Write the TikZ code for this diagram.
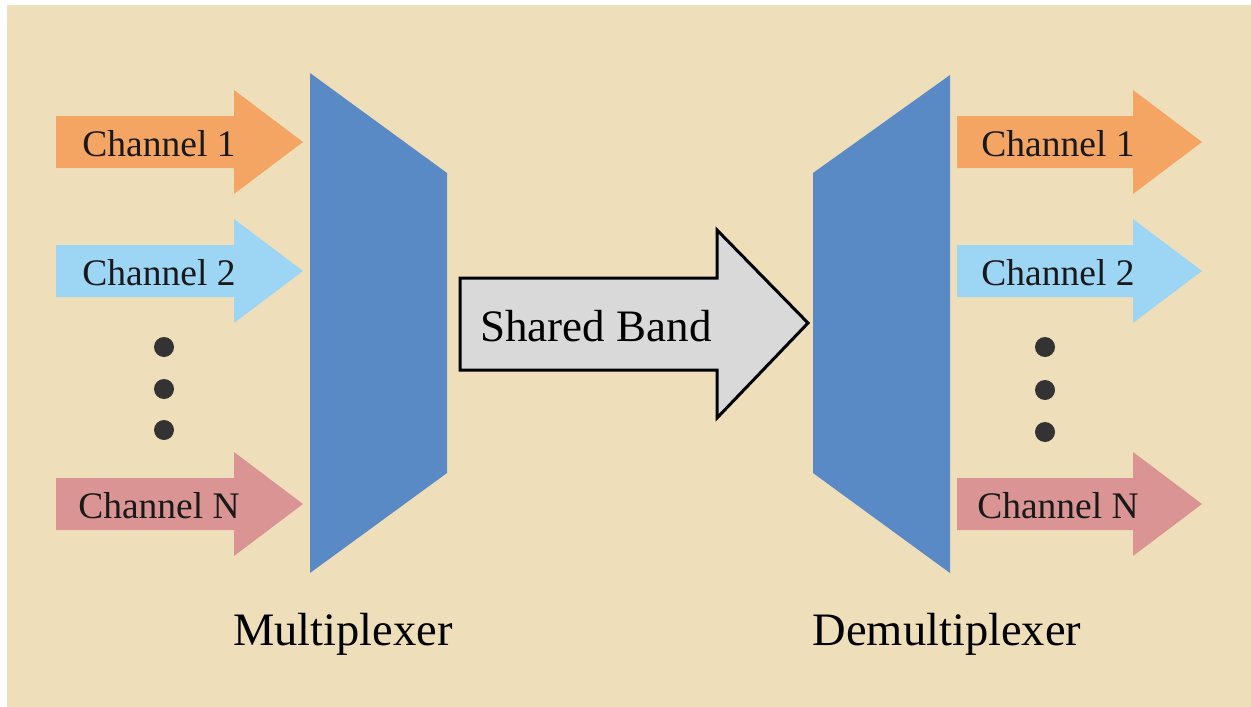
\documentclass[tikz,border=0pt]{standalone}
\usepackage{fontspec}
\setmainfont{Liberation Serif}
\usepackage{tikz}
\definecolor{paper}{RGB}{238,223,186}
\definecolor{chanA}{RGB}{245,165,99}
\definecolor{chanB}{RGB}{157,213,245}
\definecolor{chanN}{RGB}{217,148,147}
\definecolor{muxblue}{RGB}{90,138,198}
\definecolor{bandgray}{RGB}{217,217,217}
\tikzstyle{chan} = [text=black!90, font=\fontsize{37.5}{44}\selectfont, inner sep=0pt]
\tikzstyle{dot} = [circle, fill=black!80, minimum width=20pt, inner sep=0pt]
\tikzstyle{title} = [font=\fontsize{46.5}{54}\selectfont, anchor=base, inner sep=0pt]

\begin{document}
\begin{tikzpicture}[x=1pt, y=-1pt]
    \useasboundingbox (0,0) rectangle (1251,707);
    \fill[white] (0,0) rectangle (1251,707);
    \fill[paper] (7,5) rectangle (1251,707);
    % channels in
    \foreach \i/\yc/\col/\lab in {1/142/chanA/Channel 1, 2/271/chanB/Channel 2, 3/504/chanN/Channel N} {
        \fill[\col] (56,\yc-26) -- (234,\yc-26) -- (234,\yc-52) -- (303,\yc) -- (234,\yc+52) -- (234,\yc+26) -- (56,\yc+26) -- cycle;
        \node[chan] (in\i) at (159,\yc+2) {\lab};
    }
    % channels out
    \foreach \i/\yc/\col/\lab in {1/142/chanA/Channel 1, 2/271/chanB/Channel 2, 3/504/chanN/Channel N} {
        \fill[\col] (957,\yc-26) -- (1133,\yc-26) -- (1133,\yc-52) -- (1202,\yc) -- (1133,\yc+52) -- (1133,\yc+26) -- (957,\yc+26) -- cycle;
        \node[chan] (out\i) at (1058,\yc+2) {\lab};
    }
    \node[dot] (ld1) at (164,347) {};
    \node[dot] (ld2) at (164,389) {};
    \node[dot] (ld3) at (164,430) {};
    \node[dot] (rd1) at (1045,347) {};
    \node[dot] (rd2) at (1045,390) {};
    \node[dot] (rd3) at (1045,432) {};
    % mux and demux
    \fill[muxblue] (310,73) -- (447,173) -- (447,473) -- (310,573) -- cycle;
    \fill[muxblue] (950,75) -- (813,173) -- (813,473) -- (950,573) -- cycle;
    \draw[line width=3pt, fill=bandgray, line join=miter] (460,278) -- (717,278) -- (717,230) -- (808,323) -- (717,418) -- (717,370) -- (460,370) -- cycle;
    \node[font=\fontsize{45}{54}\selectfont, inner sep=0pt] (band) at (596,326) {Shared Band};
    \node[title] (mux) at (343,645) {Multiplexer};
    \node[title] (demux) at (947,645) {Demultiplexer};
\end{tikzpicture}
\end{document}
